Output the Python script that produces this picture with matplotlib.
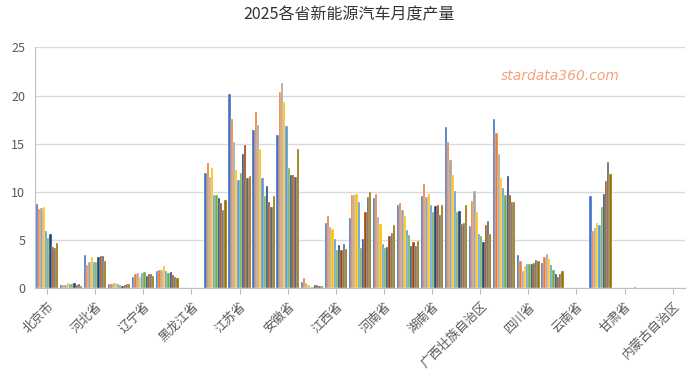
import matplotlib
matplotlib.use('Agg')
import numpy as np
import matplotlib.pyplot as plt

plt.rcParams['font.family'] = ['Noto Sans CJK SC', 'DejaVu Sans']

# Provinces (only every other one is labelled on the axis)
provinces = ['北京市', '天津市', '河北省', '山西省', '辽宁省', '吉林省', '黑龙江省',
             '上海市', '江苏省', '浙江省', '安徽省', '福建省', '江西省', '山东省',
             '河南省', '湖北省', '湖南省', '广东省', '广西壮族自治区', '重庆市',
             '四川省', '贵州省', '云南省', '陕西省', '甘肃省', '新疆维吾尔自治区',
             '内蒙古自治区']

months = ['1月', '2月', '3月', '4月', '5月', '6月', '7月', '8月', '9月', '10月']

# Monthly output per province (万辆)
jan = [8.8, 0.3, 3.5, 0.4, 1.15, 1.8, 0.05, 11.95, 20.15, 16.45, 15.95, 0.7, 6.75, 7.25,
       9.4, 8.65, 9.55, 16.7, 6.5, 17.55, 3.45, 2.65, 0.03, 9.6, 0.02, 0, 0]
feb = [8.2, 0.3, 2.45, 0.4, 1.5, 1.95, 0.05, 13.0, 17.6, 18.3, 20.4, 1.05, 7.5, 9.65,
       9.8, 8.85, 10.85, 15.2, 9.05, 16.15, 2.8, 3.25, 0.03, 5.95, 0.02, 0, 0]
mar = [8.3, 0.35, 2.7, 0.5, 1.55, 1.85, 0.05, 11.55, 15.2, 17.0, 21.3, 0.55, 6.4, 9.7,
       7.45, 8.1, 9.5, 13.3, 10.1, 13.9, 1.8, 3.6, 0.03, 6.25, 0.02, 0, 0]
apr = [8.45, 0.6, 3.2, 0.5, 1.15, 2.3, 0.05, 12.5, 12.25, 14.5, 19.3, 0.32, 6.15, 9.8,
       6.65, 7.5, 9.75, 11.75, 7.9, 11.45, 2.3, 3.05, 0.03, 6.75, 0.02, 0, 0]
may = [6.0, 0.45, 2.7, 0.4, 1.6, 1.8, 0.05, 9.7, 11.2, 11.45, 16.85, 0.17, 5.1, 8.95,
       4.6, 6.05, 8.6, 10.15, 5.65, 10.4, 2.5, 2.4, 0.03, 6.55, 0.02, 0, 0]
jun = [5.2, 0.45, 2.7, 0.3, 1.7, 1.6, 0.05, 9.65, 12.0, 9.6, 12.45, 0.18, 4.0, 4.2,
       4.2, 5.5, 7.9, 7.95, 5.45, 9.7, 2.5, 1.9, 0.03, 8.45, 0.02, 0, 0]
jul = [5.6, 0.5, 3.3, 0.2, 1.25, 1.65, 0.05, 9.4, 13.9, 10.6, 11.75, 0.32, 4.45, 5.1,
       4.25, 4.4, 8.55, 8.05, 4.8, 11.65, 2.5, 1.5, 0.03, 9.8, 0.02, 0, 0]
aug = [4.25, 0.3, 3.4, 0.3, 1.5, 1.35, 0.05, 8.85, 14.9, 9.0, 11.75, 0.32, 4.0, 7.9,
       5.45, 4.8, 8.7, 6.65, 6.55, 9.7, 2.65, 1.15, 0.03, 11.15, 0.02, 0, 0]
sep = [4.15, 0.45, 3.4, 0.4, 1.5, 1.15, 0.05, 8.15, 11.5, 8.45, 11.6, 0.22, 4.6, 9.5,
       5.7, 4.35, 7.6, 6.75, 7.0, 9.0, 2.9, 1.5, 0.03, 13.1, 0.02, 0, 0]
oct_ = [4.75, 0.2, 2.8, 0.4, 1.25, 1.1, 0.05, 9.15, 11.65, 9.6, 14.45, 0.24, 4.1, 10.0,
        6.55, 4.9, 8.7, 8.65, 5.65, 9.0, 2.85, 1.75, 0.03, 11.85, 0.1, 0, 0]

series = [jan, feb, mar, apr, may, jun, jul, aug, sep, oct_]

# Excel office palette
colors = ['#4472C4', '#ED7D31', '#A5A5A5', '#FFC000', '#5B9BD5',
          '#70AD47', '#264478', '#9E480E', '#636363', '#997300']

fig = plt.figure(figsize=(6.99, 3.79), dpi=100)
ax = fig.add_axes([0.0501, 0.2393, 0.9295, 0.6354])

x = np.arange(len(provinces))
w = 0.093
n = len(series)
for i, vals in enumerate(series):
    ax.bar(x + (i - (n - 1) / 2) * w, vals, w, color=colors[i], label=months[i],
           edgecolor='white', linewidth=0.25, zorder=3)

ax.set_xlim(-0.5, len(provinces) - 0.5)
ax.set_ylim(0, 25)
ax.set_yticks(range(0, 26, 5))
ax.grid(True, axis='y', color='#D9D9D9', linewidth=1, zorder=0)

tick_pos = x[::2]
ax.set_xticks(tick_pos)
ax.set_xticklabels([provinces[i] for i in tick_pos], rotation=45, ha='right',
                   va='top', rotation_mode='anchor', fontsize=9, color='#595959')
ax.tick_params(axis='x', length=4, color='#BFBFBF', pad=4)
ax.tick_params(axis='y', length=0, labelsize=9, labelcolor='#595959', pad=7)

for s in ['top', 'right']:
    ax.spines[s].set_visible(False)
ax.spines['left'].set_color('#BFBFBF')
ax.spines['bottom'].set_color('#BFBFBF')

fig.text(0.5, 0.96, '2025各省新能源汽车月度产量', ha='center', va='center',
         fontsize=11.5, color='#333333')
fig.text(0.716, 0.80, 'stardata360.com', ha='left', va='center',
         fontsize=10, style='italic', color='#F4A27C', family='DejaVu Sans')

fig.savefig('out.png', dpi=100)
